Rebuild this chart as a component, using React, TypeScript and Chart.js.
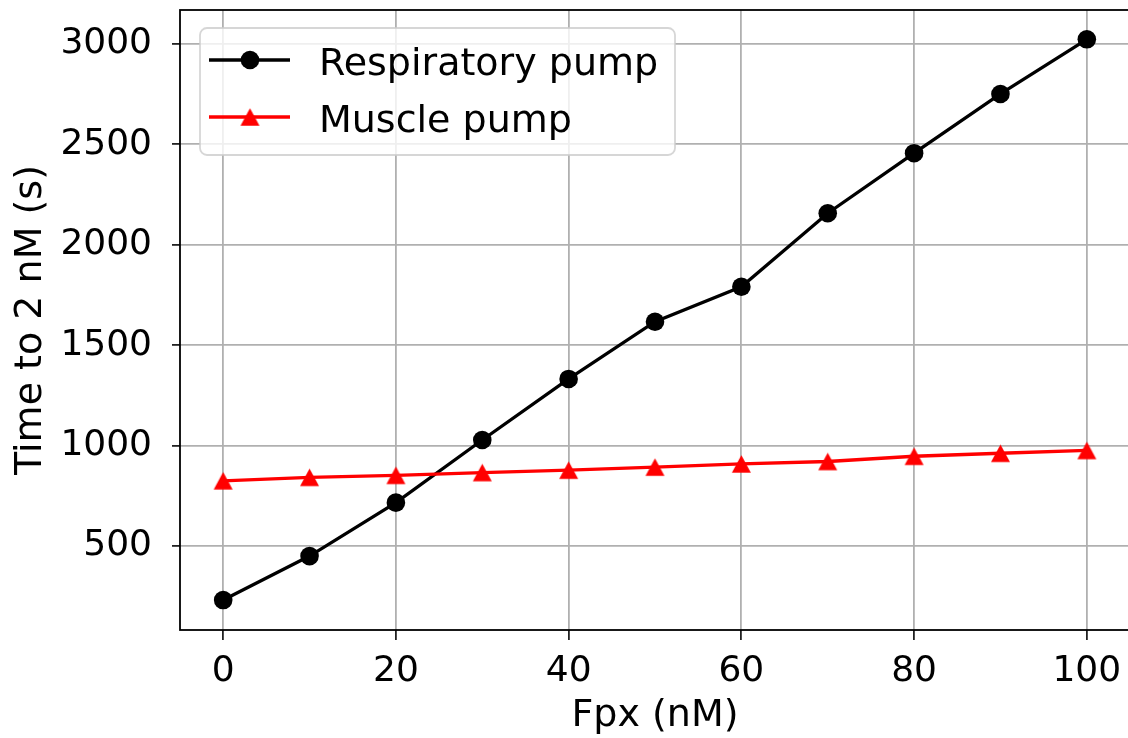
import React, { useEffect, useRef } from "react";
import { Chart, registerables } from "chart.js";

Chart.register(...registerables);

const FPX = [0, 10, 20, 30, 40, 50, 60, 70, 80, 90, 100];
const RESPIRATORY = [231, 450, 716, 1028, 1332, 1617, 1791, 2157, 2456, 2751, 3023];
const MUSCLE = [825, 842, 852, 866, 878, 893, 909, 921, 947, 962, 976];
const X_TICKS = [0, 20, 40, 60, 80, 100];
const Y_TICKS = [500, 1000, 1500, 2000, 2500, 3000];
const SERIES_LABELS = ["Respiratory pump", "Muscle pump"];
const X_TITLE = "Fpx (nM)";
const Y_TITLE = "Time to 2 nM (s)";

const FONT = "'DejaVu Sans', sans-serif";
const TICK_SIZE = 36;
const LABEL_SIZE = 38;

function makeTriangle(color: string, w: number, h: number): HTMLCanvasElement {
  const c = document.createElement("canvas");
  c.width = Math.ceil(w) + 2;
  c.height = Math.ceil(h) + 2;
  const ctx = c.getContext("2d")!;
  const cx = c.width / 2;
  const cy = c.height / 2;
  ctx.fillStyle = color;
  ctx.beginPath();
  ctx.moveTo(cx, cy - h / 2);
  ctx.lineTo(cx + w / 2, cy + h / 2);
  ctx.lineTo(cx - w / 2, cy + h / 2);
  ctx.closePath();
  ctx.fill();
  return c;
}

const framePlugin = {
  id: "frame",
  afterDatasetsDraw(chart: any) {
    const { ctx, chartArea } = chart;
    ctx.save();
    ctx.strokeStyle = "#000";
    ctx.lineWidth = 1.8;
    ctx.strokeRect(chartArea.left, chartArea.top, chartArea.right - chartArea.left, chartArea.bottom - chartArea.top);
    ctx.restore();
  },
};

const legendPlugin = {
  id: "mplLegend",
  afterDatasetsDraw(chart: any) {
    const { ctx, chartArea } = chart;
    const left = chartArea.left;
    const top = chartArea.top;
    const bx = left + 20;
    const by = top + 18;
    const bw = 475;
    const bh = 127;
    ctx.save();
    ctx.beginPath();
    (ctx as any).roundRect(bx, by, bw, bh, 7);
    ctx.fillStyle = "rgba(255,255,255,0.8)";
    ctx.fill();
    ctx.strokeStyle = "rgba(204,204,204,0.8)";
    ctx.lineWidth = 1.8;
    ctx.stroke();
    chart.data.datasets.forEach((ds: any, i: number) => {
      const rowY = top + 50 + i * 57;
      ctx.beginPath();
      ctx.strokeStyle = ds.borderColor;
      ctx.lineWidth = ds.borderWidth;
      ctx.moveTo(left + 29, rowY);
      ctx.lineTo(left + 110, rowY);
      ctx.stroke();
      const mx = left + 70;
      if (ds.pointStyle instanceof HTMLCanvasElement) {
        const img = ds.pointStyle as HTMLCanvasElement;
        ctx.drawImage(img, mx - img.width / 2, rowY - img.height / 2);
      } else {
        ctx.beginPath();
        ctx.fillStyle = ds.pointBackgroundColor;
        ctx.arc(mx, rowY, ds.pointRadius, 0, Math.PI * 2);
        ctx.fill();
      }
      ctx.fillStyle = "#000";
      ctx.font = `${LABEL_SIZE}px ${FONT}`;
      ctx.textAlign = "left";
      ctx.textBaseline = "alphabetic";
      ctx.fillText(ds.label, left + 139, rowY + 15);
    });
    ctx.restore();
  },
};

export default function App() {
  const canvasRef = useRef<HTMLCanvasElement | null>(null);

  useEffect(() => {
    const canvas = canvasRef.current;
    if (!canvas) return;
    const triangle = makeTriangle("#ff0000", 19, 17.5);
    const tickFont = { family: FONT, size: TICK_SIZE };
    const chart = new Chart(canvas, {
      type: "line",
      data: {
        datasets: [
          {
            label: SERIES_LABELS[0],
            data: FPX.map((x, i) => ({ x, y: RESPIRATORY[i] })),
            borderColor: "#000000",
            backgroundColor: "#000000",
            borderWidth: 3.3,
            pointStyle: "circle",
            pointRadius: 9.3,
            pointBackgroundColor: "#000000",
            pointBorderWidth: 0,
            tension: 0,
            order: 1,
          },
          {
            label: SERIES_LABELS[1],
            data: FPX.map((x, i) => ({ x, y: MUSCLE[i] })),
            borderColor: "#ff0000",
            backgroundColor: "#ff0000",
            borderWidth: 3.3,
            pointStyle: triangle as any,
            pointRadius: 10,
            pointBackgroundColor: "#ff0000",
            pointBorderWidth: 0,
            tension: 0,
            order: 0,
          },
        ],
      },
      options: {
        responsive: false,
        animation: false,
        devicePixelRatio: 1,
        layout: { padding: { top: 10, right: 8.4, left: 0, bottom: 0 } },
        plugins: {
          legend: { display: false },
          tooltip: { enabled: false },
        },
        scales: {
          x: {
            type: "linear",
            min: -5,
            max: 105,
            afterBuildTicks: (s: any) => {
              s.ticks = X_TICKS.map((v) => ({ value: v }));
            },
            afterFit: (s: any) => {
              s.height = 108;
              s.paddingLeft = 0;
              s.paddingRight = 0;
            },
            grid: { color: "#b0b0b0", lineWidth: 1.8, tickColor: "#222", tickLength: 10, drawTicks: true },
            border: { display: false },
            ticks: {
              color: "#000",
              font: tickFont,
              padding: 10.5,
              maxRotation: 0,
              autoSkip: false,
              callback: (v: any) => String(v),
            },
            title: {
              display: true,
              text: X_TITLE,
              color: "#000",
              font: { family: FONT, size: LABEL_SIZE, lineHeight: 1.15 },
              padding: { top: 0, bottom: 0 },
            },
          },
          y: {
            type: "linear",
            min: 82,
            max: 3169,
            afterBuildTicks: (s: any) => {
              s.ticks = Y_TICKS.map((v) => ({ value: v }));
            },
            afterFit: (s: any) => {
              s.width = 180;
              s.paddingTop = 0;
              s.paddingBottom = 0;
            },
            grid: { color: "#b0b0b0", lineWidth: 1.8, tickColor: "#222", tickLength: 8, drawTicks: true },
            border: { display: false },
            ticks: {
              color: "#000",
              font: tickFont,
              padding: 20,
              autoSkip: false,
              callback: (v: any) => String(v),
            },
            title: {
              display: true,
              text: Y_TITLE,
              color: "#000",
              font: { family: FONT, size: LABEL_SIZE, lineHeight: 1.15 },
              padding: { top: 9.5, bottom: 0 },
            },
          },
        },
      },
      plugins: [framePlugin, legendPlugin],
    });
    return () => chart.destroy();
  }, []);

  return (
    <div
      style={{
        position: "fixed",
        left: 0,
        top: 0,
        width: 1128,
        height: 738,
        overflow: "hidden",
        background: "#ffffff",
      }}
    >
      <canvas ref={canvasRef} width={1140} height={738} style={{ display: "block", width: 1140, height: 738 }} />
    </div>
  );
}
